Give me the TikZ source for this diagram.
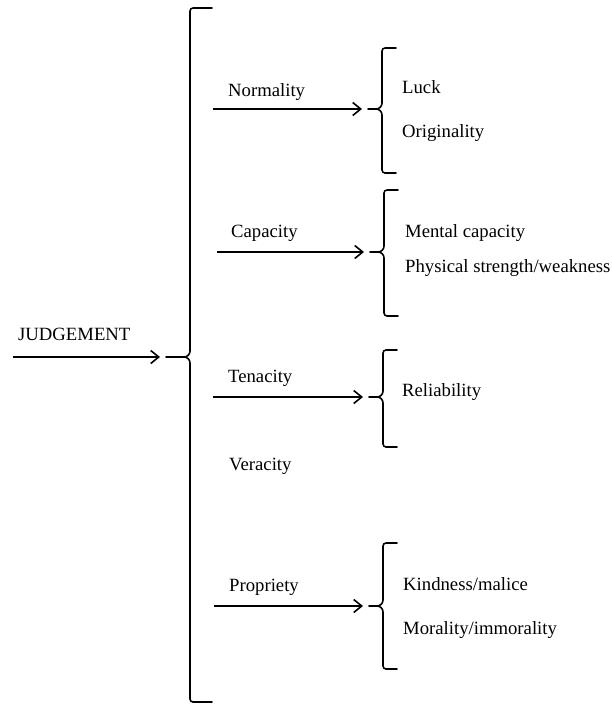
\documentclass[tikz,border=0pt]{standalone}
\usepackage{fontspec}
\setmainfont{Liberation Serif}
\usetikzlibrary{arrows.meta}

% Curly bracket drawn as: top serif, vertical bar, pointed middle tip with a
% short tick to the left, vertical bar, bottom serif.
% #1 tip name, #2 x of bar, #3 top y, #4 tip y, #5 bottom y, #6 serif length, #7 tick length
\newcommand{\groupbrace}[7]{%
  \draw[bracepen]
    (#2+#6,#3) -- (#2+3,#3) to[out=180,in=90] (#2,#3+3)
    -- (#2,#4-6) to[out=-90,in=0] (#2-6,#4) -- (#2-#7,#4);
  \draw[bracepen]
    (#2-6,#4) to[out=0,in=90] (#2,#4+6)
    -- (#2,#5-3) to[out=-90,in=180] (#2+3,#5) -- (#2+#6,#5);
  \coordinate (#1) at (#2-#7,#4);
}

\begin{document}
\begin{tikzpicture}[x=1pt,y=-1pt,
  bracepen/.style={line width=1.6pt, line cap=round, line join=round},
  feed/.style={line width=1.6pt, -{Straight Barb[length=8pt,width=13pt,line width=1.6pt]}, shorten >=6pt},
  lbl/.style={anchor=west, inner sep=0pt, text height=12.5pt, text depth=4pt,
              font=\fontsize{18.7}{22}\selectfont}]
  \useasboundingbox (0,0) rectangle (612,704);

  % main bracket and its entry arrow
  \groupbrace{main}{190}{8}{357}{702}{22}{24}
  \node[lbl] (judgement) at (18,336) {JUDGEMENT};
  \coordinate (jstart) at (13,357);
  \draw[feed] (jstart) -- (main);

  % Normality
  \node[lbl] (normality) at (228,92) {Normality};
  \coordinate (nstart) at (213,109);
  \groupbrace{nbr}{382}{48}{109}{173}{14}{14}
  \draw[feed] (nstart) -- (nbr);
  \node[lbl] (luck) at (402,89) {Luck};
  \node[lbl] (originality) at (402,133) {Originality};

  % Capacity
  \node[lbl] (capacity) at (231,233) {Capacity};
  \coordinate (cstart) at (217,252);
  \groupbrace{cbr}{384}{190}{252}{316}{14}{14}
  \draw[feed] (cstart) -- (cbr);
  \node[lbl] (mental) at (405,233) {Mental capacity};
  \node[lbl] (physical) at (405,268) {Physical strength/weakness};

  % Tenacity
  \node[lbl] (tenacity) at (228,378) {Tenacity};
  \coordinate (tstart) at (213,397);
  \groupbrace{tbr}{383}{350}{397}{447}{14}{14}
  \draw[feed] (tstart) -- (tbr);
  \node[lbl] (reliability) at (402,392) {Reliability};

  % Veracity
  \node[lbl] (veracity) at (229,466) {Veracity};

  % Propriety
  \node[lbl] (propriety) at (229,587) {Propriety};
  \coordinate (pstart) at (214,606);
  \groupbrace{pbr}{383}{543}{606}{669}{14}{14}
  \draw[feed] (pstart) -- (pbr);
  \node[lbl] (kindness) at (403,586) {Kindness/malice};
  \node[lbl] (morality) at (403,630) {Morality/immorality};
\end{tikzpicture}
\end{document}
